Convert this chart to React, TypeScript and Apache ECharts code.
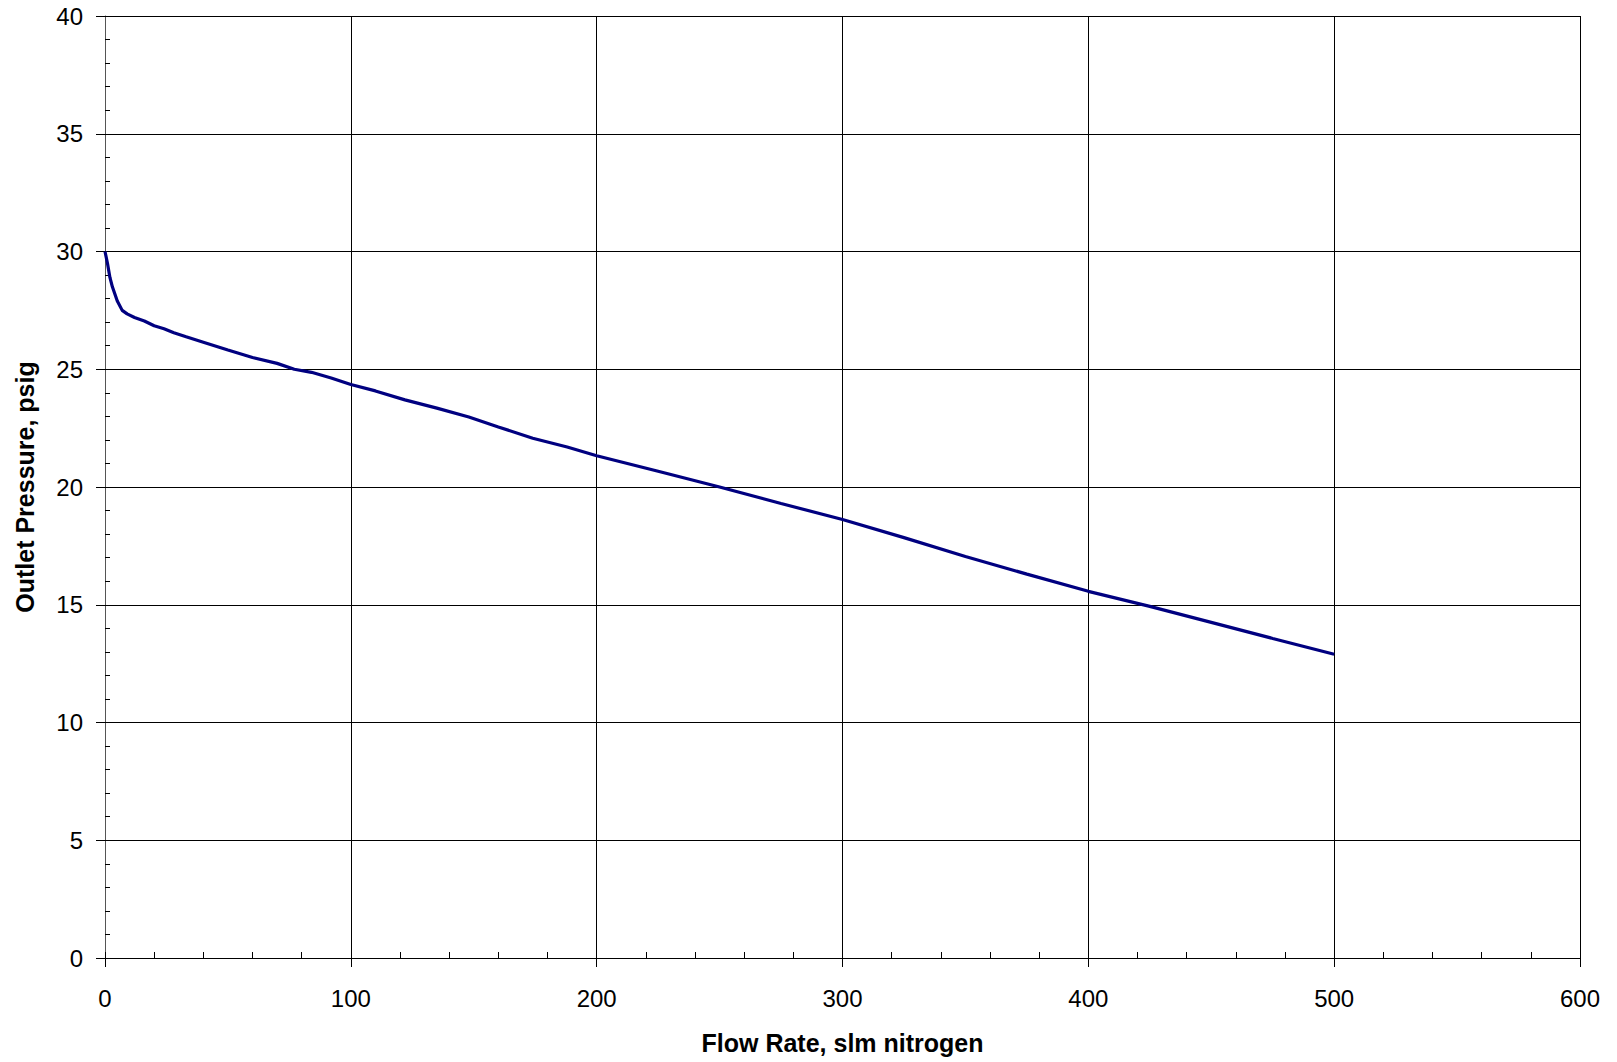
import React, { useEffect, useRef } from "react";
import * as echarts from "echarts";

const flowRate = [0, 1, 2, 3, 5, 7, 9, 12, 16, 20, 24, 28, 33, 40, 50, 60, 70, 77, 84, 92, 100, 110, 122, 135, 148, 160, 174, 188, 200, 225, 250, 275, 300, 325, 350, 375, 400, 425, 450, 475, 500];
const outletPressure = [30.0, 29.5, 28.9, 28.5, 27.9, 27.5, 27.35, 27.2, 27.05, 26.85, 26.72, 26.55, 26.38, 26.15, 25.82, 25.5, 25.25, 25.0, 24.87, 24.63, 24.35, 24.08, 23.7, 23.35, 22.97, 22.55, 22.07, 21.7, 21.33, 20.67, 20.0, 19.3, 18.62, 17.85, 17.05, 16.3, 15.57, 14.93, 14.25, 13.57, 12.9];

const xTitle = "Flow Rate, slm nitrogen";
const yTitle = "Outlet Pressure, psig";

const FONT = "Arial, 'Liberation Sans', sans-serif";

export default function App() {
  const ref = useRef<HTMLDivElement>(null);

  useEffect(() => {
    if (!ref.current) return;
    const chart = echarts.init(ref.current, null, { renderer: "svg" });
    const data = flowRate.map((x, i) => [x, outletPressure[i]]);
    chart.setOption({
      animation: false,
      backgroundColor: "#ffffff",
      grid: { left: 105, right: 37, top: 16, bottom: 104, containLabel: false },
      xAxis: [
        {
          type: "value",
          min: 0,
          max: 600,
          interval: 100,
          position: "bottom",
          name: xTitle,
          nameLocation: "middle",
          nameGap: 72,
          nameTextStyle: { fontFamily: FONT, fontSize: 25, fontWeight: "bold", color: "#000" },
          axisLine: { show: true, onZero: false, lineStyle: { color: "#000", width: 1 } },
          axisTick: { show: true, inside: false, length: 9, lineStyle: { color: "#000" } },
          axisLabel: { fontFamily: FONT, fontSize: 24, color: "#000", margin: 28 },
          splitLine: { show: true, lineStyle: { color: "#000", width: 1 } },
          minorTick: { show: false },
        },
        {
          type: "value",
          min: 0,
          max: 600,
          interval: 100,
          position: "bottom",
          axisLine: { show: false, onZero: false },
          axisTick: { show: true, inside: true, length: 6, lineStyle: { color: "#000" } },
          minorTick: { show: true, splitNumber: 5, length: 6, lineStyle: { color: "#000" } },
          axisLabel: { show: false },
          splitLine: { show: false },
        },
      ],
      yAxis: [
        {
          type: "value",
          min: 0,
          max: 40,
          interval: 5,
          position: "left",
          name: yTitle,
          nameLocation: "middle",
          nameGap: 68,
          nameTextStyle: { fontFamily: FONT, fontSize: 25, fontWeight: "bold", color: "#000" },
          axisLine: { show: true, onZero: false, lineStyle: { color: "#555", width: 1 } },
          axisTick: { show: true, inside: false, length: 9, lineStyle: { color: "#000" } },
          axisLabel: { fontFamily: FONT, fontSize: 24, color: "#000", margin: 22 },
          splitLine: { show: true, lineStyle: { color: "#000", width: 1 } },
          minorTick: { show: false },
        },
        {
          type: "value",
          min: 0,
          max: 40,
          interval: 5,
          position: "left",
          axisLine: { show: false, onZero: false },
          axisTick: { show: true, inside: true, length: 5, lineStyle: { color: "#000" } },
          minorTick: { show: true, splitNumber: 5, length: 5, lineStyle: { color: "#000" } },
          axisLabel: { show: false },
          splitLine: { show: false },
        },
      ],
      series: [
        {
          type: "line",
          xAxisIndex: 0,
          yAxisIndex: 0,
          data,
          showSymbol: false,
          symbol: "none",
          smooth: false,
          lineStyle: { color: "#000080", width: 3.2 },
        },
      ],
    });
    return () => chart.dispose();
  }, []);

  return (
    <div
      ref={ref}
      style={{ position: "fixed", left: 0, top: 0, width: 1617, height: 1062, background: "#fff" }}
    />
  );
}
